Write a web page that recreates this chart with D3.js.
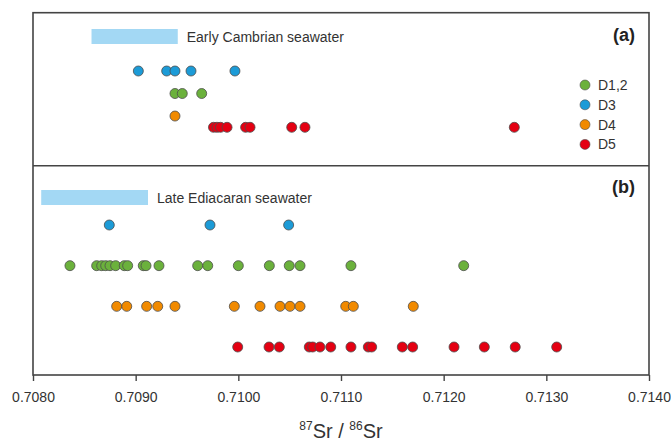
<!DOCTYPE html>
<html>
<head>
<meta charset="utf-8">
<script src="https://cdn.jsdelivr.net/npm/d3@7"></script>
<style>
  body { margin: 0; background: #fff; }
  svg { display: block; font-family: "Liberation Sans", Arial, sans-serif; }
</style>
</head>
<body>
<div id="chart"></div>
<script>
// 87Sr/86Sr values
const groups = ["D1,2", "D3", "D4", "D5"]
const groupColors = ["#6bb13c", "#1c9bd7", "#f18a00", "#e40012"]

// panel (a)
const aD12 = [0.709383, 0.709454, 0.709643]
const aD3 = [0.709026, 0.709302, 0.709383, 0.709539, 0.709967]
const aD4 = [0.709383]
const aD5 = [0.709758, 0.709792, 0.709826, 0.709890, 0.710071, 0.710114, 0.710520, 0.710649, 0.712688]

// panel (b)
const bD12 = [0.708360, 0.708620, 0.708669, 0.708708, 0.708750, 0.708805, 0.708889, 0.708922,
    0.709074, 0.709101, 0.709227, 0.709604, 0.709702, 0.710000, 0.710302, 0.710496, 0.710601,
    0.711097, 0.712195]
const bD3 = [0.708743, 0.709724, 0.710490]
const bD4 = [0.708815, 0.708913, 0.709107, 0.709215, 0.709383, 0.709961, 0.710211, 0.710406,
    0.710503, 0.710601, 0.711046, 0.711120, 0.711704]
const bD5 = [0.709994, 0.710299, 0.710399, 0.710691, 0.710724, 0.710795, 0.710900, 0.711097,
    0.711266, 0.711299, 0.711597, 0.711698, 0.712101, 0.712396, 0.712697, 0.713101]

// strip rows (categorical order from top)
const rowsA = { "D3": 0, "D1,2": 1, "D4": 2, "D5": 2.5 }
const rowsB = { "D3": 0, "D1,2": 1, "D4": 2, "D5": 3 }

// seawater ranges
const seawaterA = [0.70857, 0.70941]
const seawaterB = [0.70808, 0.70912]

const xTicks = [0.708, 0.709, 0.710, 0.711, 0.712, 0.713, 0.714]

const width = 671
const height = 441
const frameLeft = 33, frameRight = 649
const frameTop = 12.7, frameMid = 165.7, frameBottom = 375
const stroke = "#444"

const svg = d3.select("#chart").append("svg")
    .attr("width", width)
    .attr("height", height)

const x = d3.scaleLinear().domain([0.708, 0.714]).range([frameLeft, frameRight])
const color = d3.scaleOrdinal(groups, groupColors)

const yA = d3.scaleLinear().domain([0, 2.5]).range([71, 127.3])
const yB = d3.scaleLinear().domain([0, 3]).range([225, 347])

function points(sets, rows) {
    const out = []
    sets.forEach(([g, vals]) => vals.forEach(v => out.push({ g: g, v: v, row: rows[g] })))
    return out
}

const ptsA = points([["D3", aD3], ["D1,2", aD12], ["D4", aD4], ["D5", aD5]], rowsA)
const ptsB = points([["D3", bD3], ["D1,2", bD12], ["D4", bD4], ["D5", bD5]], rowsB)

// seawater bars
svg.append("rect")
    .attr("x", x(seawaterA[0])).attr("width", x(seawaterA[1]) - x(seawaterA[0]))
    .attr("y", 29).attr("height", 15)
    .attr("fill", "#a3d8f4")
svg.append("text")
    .attr("x", x(seawaterA[1]) + 9).attr("y", 42)
    .attr("font-size", 14).attr("fill", "#333")
    .text("Early Cambrian seawater")

svg.append("rect")
    .attr("x", x(seawaterB[0])).attr("width", x(seawaterB[1]) - x(seawaterB[0]))
    .attr("y", 190).attr("height", 15)
    .attr("fill", "#a3d8f4")
svg.append("text")
    .attr("x", x(seawaterB[1]) + 9).attr("y", 203)
    .attr("font-size", 14).attr("fill", "#333")
    .text("Late Ediacaran seawater")

// dots, drawn left to right so the right one overlaps
function drawDots(pts, y) {
    svg.append("g")
        .selectAll("circle")
        .data(pts.slice().sort((a, b) => d3.ascending(a.row, b.row) || d3.ascending(a.v, b.v)))
        .join("circle")
        .attr("cx", d => x(d.v))
        .attr("cy", d => y(d.row))
        .attr("r", 5)
        .attr("fill", d => color(d.g))
        .attr("stroke", "#4d4d4d")
        .attr("stroke-width", 0.8)
}
drawDots(ptsA, yA)
drawDots(ptsB, yB)

// frame
svg.append("rect")
    .attr("x", frameLeft).attr("y", frameTop)
    .attr("width", frameRight - frameLeft).attr("height", frameBottom - frameTop)
    .attr("fill", "none").attr("stroke", stroke).attr("stroke-width", 1.6)
svg.append("line")
    .attr("x1", frameLeft).attr("x2", frameRight).attr("y1", frameMid).attr("y2", frameMid)
    .attr("stroke", stroke).attr("stroke-width", 1.6)

// panel labels
svg.append("text").attr("x", 635).attr("y", 41)
    .attr("text-anchor", "end").attr("font-size", 18).attr("font-weight", "bold").attr("fill", "#222")
    .text("(a)")
svg.append("text").attr("x", 635).attr("y", 193)
    .attr("text-anchor", "end").attr("font-size", 18).attr("font-weight", "bold").attr("fill", "#222")
    .text("(b)")

// legend
const legend = svg.append("g")
    .selectAll("g")
    .data(groups)
    .join("g")
    .attr("transform", (d, i) => `translate(585,${85 + i * 19.8})`)
legend.append("circle")
    .attr("r", 5)
    .attr("fill", d => color(d))
    .attr("stroke", "#4d4d4d")
    .attr("stroke-width", 0.6)
legend.append("text")
    .attr("x", 13).attr("y", 5)
    .attr("font-size", 14).attr("fill", "#333")
    .text(d => d)

// x axis
const axis = svg.append("g")
    .attr("transform", `translate(0,${frameBottom})`)
    .call(d3.axisBottom(x).tickValues(xTicks).tickFormat(d3.format(".4f")).tickSize(6).tickSizeOuter(0))
axis.select(".domain").remove()
axis.selectAll(".tick line").attr("stroke", stroke).attr("stroke-width", 1.4)
axis.selectAll(".tick text")
    .attr("font-size", 14)
    .attr("font-family", "Liberation Sans, Arial, sans-serif")
    .attr("fill", "#333")
    .attr("dy", null)
    .attr("y", 27)

// axis title
const title = svg.append("text")
    .attr("x", (frameLeft + frameRight) / 2).attr("y", 438)
    .attr("text-anchor", "middle")
    .attr("font-size", 20).attr("fill", "#333")
title.append("tspan").attr("font-size", 12).attr("dy", -8).text("87")
title.append("tspan").attr("dy", 8).text("Sr / ")
title.append("tspan").attr("font-size", 12).attr("dy", -8).text("86")
title.append("tspan").attr("dy", 8).text("Sr")
</script>
</body>
</html>
